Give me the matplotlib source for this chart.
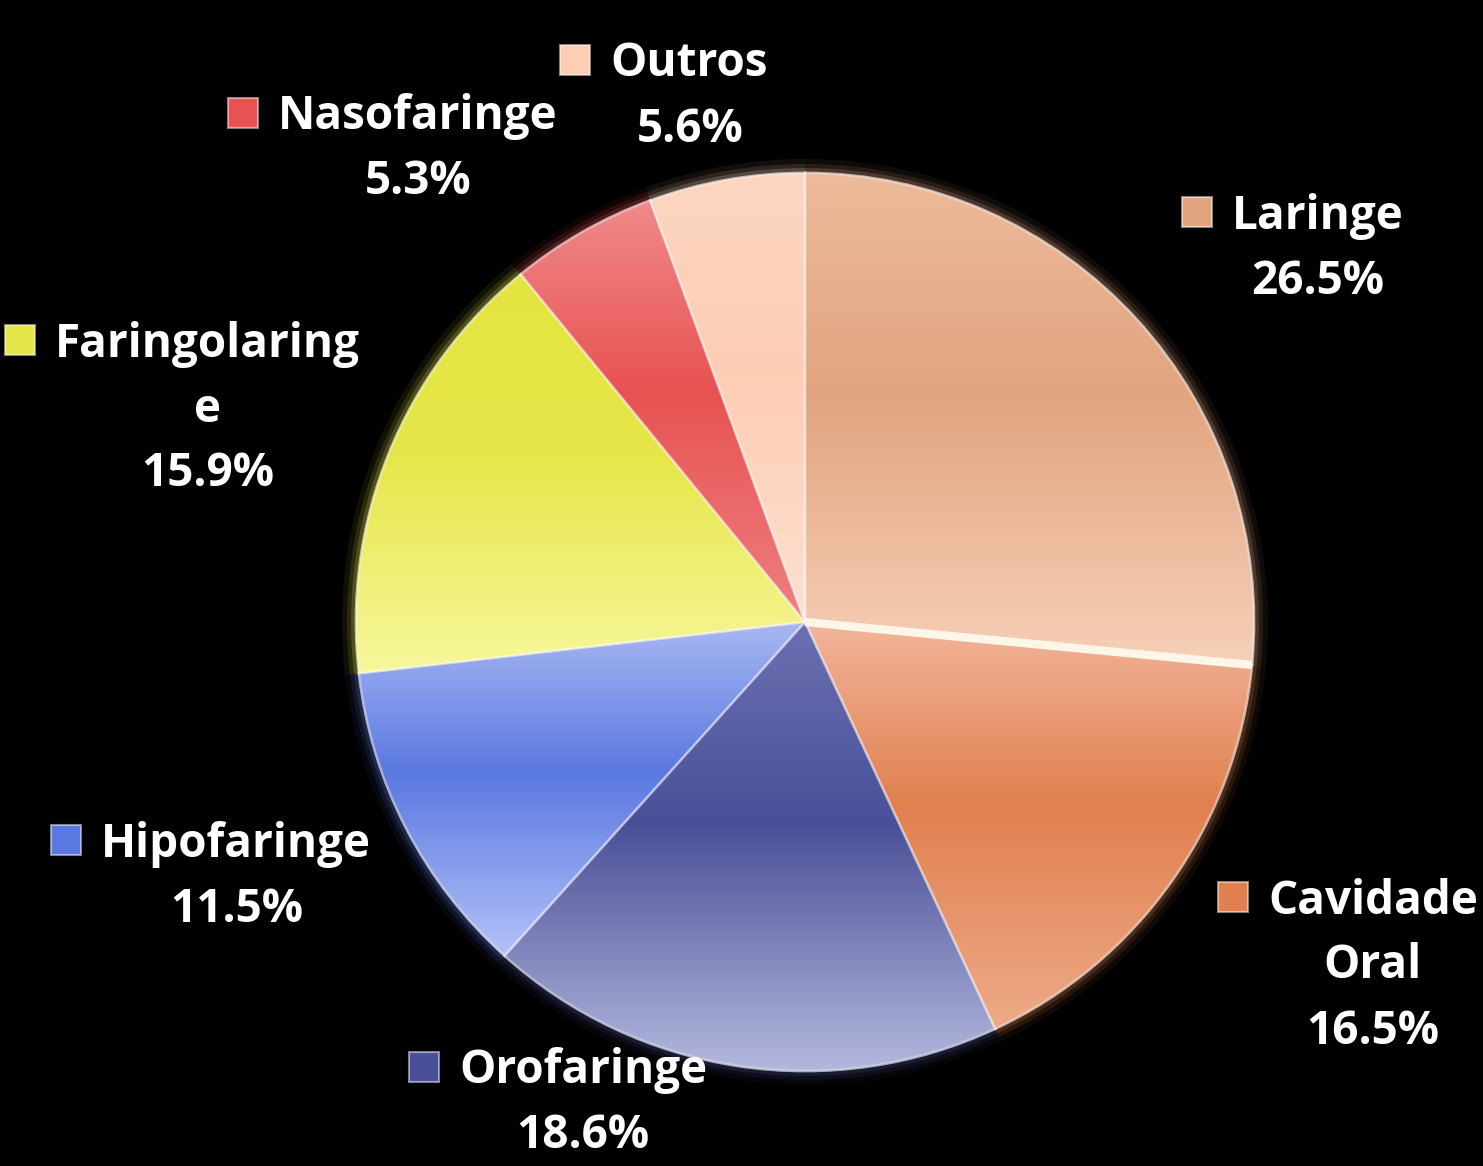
"""Pie chart: distribuição dos tumores de cabeça e pescoço por localização."""

import matplotlib

matplotlib.use("Agg")
import matplotlib.pyplot as plt  # noqa: E402
import numpy as np  # noqa: E402
from matplotlib.colors import LinearSegmentedColormap, to_rgb  # noqa: E402
from matplotlib.patches import Rectangle, Wedge  # noqa: E402

W, H = 1483, 1166

# data, clockwise from 12 o'clock
names = ["Laringe", "Cavidade\nOral", "Orofaringe", "Hipofaringe",
         "Faringolaring\ne", "Nasofaringe", "Outros"]
values = [26.5, 16.5, 18.6, 11.5, 15.9, 5.3, 5.6]
colors = ["#e2a47f", "#e0804f", "#4a5098", "#5a78e0", "#e6e64a", "#e85252", "#fdcdb4"]
tops = ["#ecbb9b", "#f2b59a", "#6a70b0", "#a8b8f2", "#e4e440", "#f08a8a", "#fcd6c2"]
bottoms = ["#f6d0b8", "#eeaa88", "#b4b8de", "#b4c2f8", "#f7f79c", "#ee8080", "#fee0d0"]

# label layout in pixels: (marker x, first line y, block centre x)
label_pos = [(1197, 212, 1318), (1233, 897, 1373), (424, 1067, 583),
             (66, 840, 237), (20, 340, 208), (243, 113, 418), (575, 60, 690)]

CENTER = (805, H - 622)
R = 449
LINE = 65
TEXT_DY = 4  # text sits a little lower than the marker centre

fig = plt.figure(figsize=(W / 100, H / 100), dpi=100, facecolor="black")
ax = fig.add_axes([0, 0, 1, 1])
ax.set_facecolor("black")

wedges, _ = ax.pie(values, startangle=90, counterclock=False, center=CENTER,
                   radius=R, colors=colors, frame=True,
                   wedgeprops=dict(linewidth=2, edgecolor=(1, 1, 1, 0.45)))

for w, col, top, bot in zip(wedges, colors, tops, bottoms):
    w.set_zorder(3)
    # soft glow around the rim
    for d, a in [(14, 0.07), (9, 0.12), (5, 0.2)]:
        ax.add_patch(Wedge(CENTER, R + d, w.theta1, w.theta2, color=col,
                           alpha=a, lw=0, zorder=1))
    # glassy vertical gradient clipped to the slice
    cmap = LinearSegmentedColormap.from_list(
        "g", [(0, to_rgb(top)), (0.45, to_rgb(col)), (1, to_rgb(bot))])
    th = np.radians(np.linspace(w.theta1, w.theta2, 60))
    ys = np.concatenate([[CENTER[1]], CENTER[1] + R * np.sin(th)])
    xs = np.concatenate([[CENTER[0]], CENTER[0] + R * np.cos(th)])
    grad = np.linspace(0, 1, 256)[:, None]
    im = ax.imshow(grad, cmap=cmap, aspect="auto", zorder=4,
                   extent=(xs.min(), xs.max(), ys.min(), ys.max()), origin="upper")
    im.set_clip_path(w)
    # keep the edge on top of the gradient
    ax.add_patch(Wedge(CENTER, R, w.theta1, w.theta2, fill=False, lw=1.8,
                       edgecolor=(1, 1, 1, 0.35), zorder=5))

# bright seam between Laringe and Cavidade Oral
seam = np.radians(wedges[0].theta1)
ax.plot([CENTER[0], CENTER[0] + R * np.cos(seam)],
        [CENTER[1], CENTER[1] + R * np.sin(seam)],
        color="#fff6ea", lw=6, solid_capstyle="butt", zorder=6)

font = dict(family=["Open Sans", "DejaVu Sans"], fontweight="bold",
            color="white", fontsize=33)
for name, v, col, (mx, y0, cx) in zip(names, values, colors, label_pos):
    lines = name.split("\n")
    yd = H - y0
    ax.add_patch(Rectangle((mx - 15, yd - 15), 30, 30, facecolor=col,
                           edgecolor=(1, 1, 1, 0.5), lw=1.5, zorder=7))
    ax.text(mx + 35, yd - TEXT_DY, lines[0], ha="left", va="center", zorder=7, **font)
    for i, ln in enumerate(lines[1:] + [f"{v:.1f}%"], start=1):
        ax.text(cx, yd - TEXT_DY - i * LINE, ln, ha="center", va="center",
                zorder=7, **font)

ax.set_xlim(0, W)
ax.set_ylim(0, H)
ax.set_aspect("equal")
ax.axis("off")

fig.savefig("out.png", dpi=100, facecolor="black")
